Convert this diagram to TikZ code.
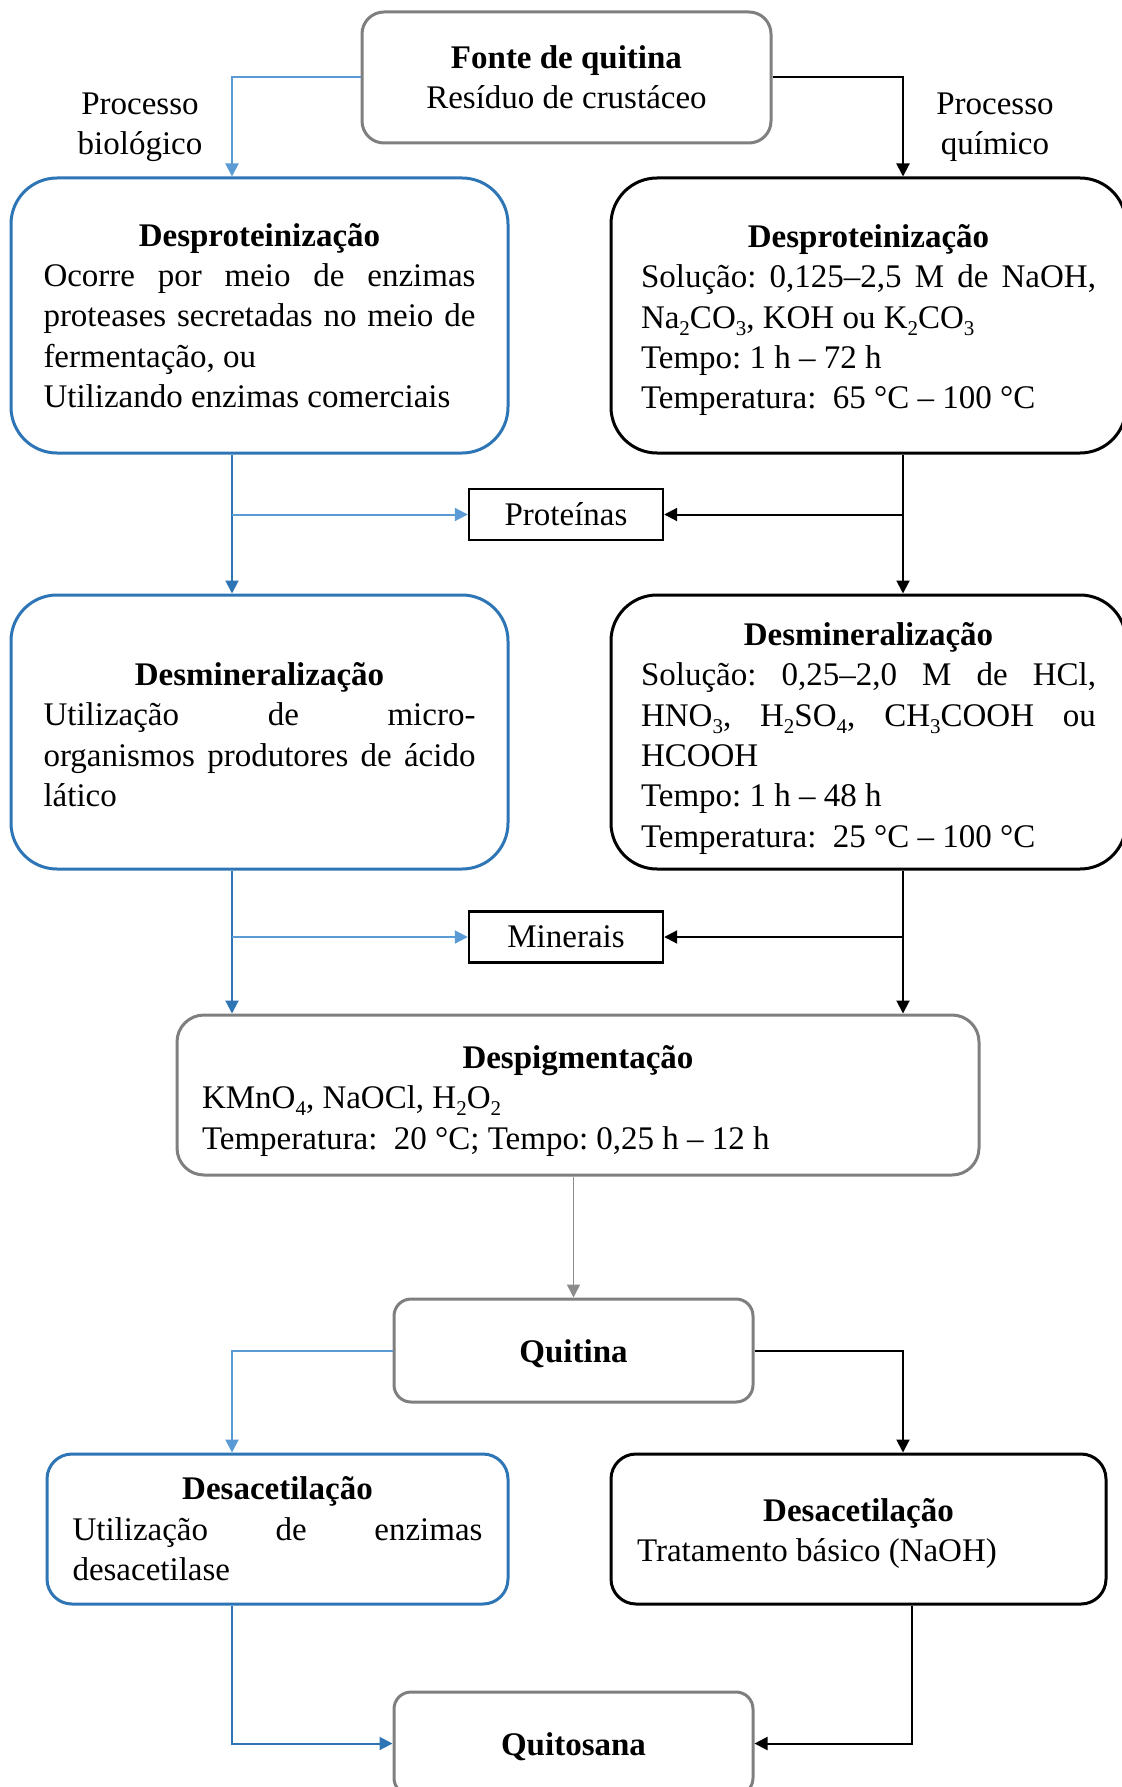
\documentclass[tikz,border=0pt]{standalone}
\usepackage{fontspec}
\setmainfont{Liberation Serif}
\usepackage{tikz}
\usetikzlibrary{arrows.meta,positioning,calc}

\definecolor{azulclaro}{RGB}{91,155,213}
\definecolor{azulescuro}{RGB}{46,117,182}
\definecolor{cinzacaixa}{RGB}{127,127,127}
\definecolor{cinzaseta}{RGB}{140,140,140}

\newcommand{\subi}[1]{\raisebox{-0.22em}{\fontsize{10.5}{10.5}\selectfont #1}}
\frenchspacing

\tikzset{
  every node/.style={font=\fontsize{16.5}{20.2}\selectfont, inner sep=0pt},
  caixa/.style={fill=white, line width=1.5pt, align=justify},
  caixabio/.style={caixa, draw=azulescuro},
  caixaquim/.style={caixa, draw=black},
  caixacinza/.style={caixa, draw=cinzacaixa},
  caixaprod/.style={draw=black, line width=1.2pt, minimum width=97pt, minimum height=25.5pt},
  seta/.style={line width=1pt, -{Triangle[length=6.5pt,width=6.5pt]}},
  setabio/.style={seta, azulclaro},
  setabioesc/.style={seta, azulescuro},
  setaquim/.style={seta, black},
  setacinza/.style={seta, cinzaseta, line width=0.8pt}
}

\begin{document}
\begin{tikzpicture}[x=0.5pt,y=-0.5pt]
\useasboundingbox (0,0) rectangle (1121,1787);

% colunas dos dois processos
\coordinate (colB) at (232,0);
\coordinate (colQ) at (903,0);
\coordinate (colQ2) at (912,0);

% fonte
\node[caixacinza, align=center, minimum width=204.5pt, minimum height=65.5pt, rounded corners=11pt] (fonte) at (566.5,77.5)
  {\textbf{Fonte de quitina}\\Resíduo de crustáceo};
\node[align=center] (procB) at (140,127.5) {Processo\\biológico};
\node[align=center] (procQ) at (995,127.5) {Processo\\químico};

% desproteinizacao
\node[caixabio, text width=216pt, minimum width=248.5pt, minimum height=137.5pt, rounded corners=23pt] (desprotB) at (259.5,315.5)
  {{\centering\bfseries Desproteinização\par}
   Ocorre por meio de enzimas\linebreak
   proteases secretadas no meio de\linebreak
   fermentação, ou\newline
   Utilizando enzimas comerciais};
\node[caixaquim, text width=227.5pt, minimum width=257.5pt, minimum height=137.5pt, rounded corners=23pt] (desprotQ) at (868.5,315.5)
  {{\centering\bfseries Desproteinização\par}
   Solução: 0,125–2,5 M de NaOH,\linebreak
   Na\subi{2}CO\subi{3}, KOH ou K\subi{2}CO\subi{3}\newline
   Tempo: 1 h – 72 h\newline
   Temperatura:\ \ 65 °C – 100 °C\par\kern-4.6pt};
\node[caixaprod] (proteinas) at (566,514.5) {Proteínas};

% desmineralizacao
\node[caixabio, text width=216pt, minimum width=248.5pt, minimum height=137pt, rounded corners=23pt] (desminB) at (259.5,732)
  {{\centering\bfseries Desmineralização\par}
   Utilização de micro-\linebreak
   organismos produtores de ácido\linebreak
   lático\par\kern-2.8pt};
\node[caixaquim, text width=227.5pt, minimum width=257.5pt, minimum height=137pt, rounded corners=23pt] (desminQ) at (868.5,732)
  {{\centering\bfseries Desmineralização\par}
   Solução: 0,25–2,0 M de HCl,\linebreak
   HNO\subi{3}, H\subi{2}SO\subi{4}, CH\subi{3}COOH ou\linebreak
   HCOOH\newline
   Tempo: 1 h – 48 h\newline
   Temperatura:\ \ 25 °C – 100 °C\par\kern-6.3pt};
\node[caixaprod] (minerais) at (566,937) {Minerais};

% despigmentacao
\node[caixacinza, text width=376pt, minimum width=401pt, minimum height=80pt, rounded corners=13.5pt] (despig) at (578,1095)
  {{\centering\bfseries Despigmentação\par}
   KMnO\subi{4}, NaOCl, H\subi{2}O\subi{2}\newline
   Temperatura:\ \ 20 °C; Tempo: 0,25 h – 12 h\par\kern-5.7pt};
\node[caixacinza, align=center, text height=12.2pt, text depth=0pt, minimum width=179.5pt, minimum height=51.5pt, rounded corners=8.5pt] (quitina) at (573.5,1350.5)
  {\textbf{Quitina}};

% desacetilacao
\node[caixabio, text width=205pt, minimum width=230.5pt, minimum height=75pt, rounded corners=12.5pt] (desacB) at (277.5,1529)
  {{\centering\bfseries Desacetilação\par}
   Utilização de enzimas\linebreak
   desacetilase};
\node[caixaquim, text width=221.5pt, minimum width=247.5pt, minimum height=75pt, rounded corners=12.5pt] (desacQ) at (858.5,1529)
  {{\centering\bfseries Desacetilação\par}
   Tratamento básico (NaOH)\par\kern-4.6pt};
\node[caixacinza, align=center, text height=12.2pt, text depth=0pt, minimum width=179.5pt, minimum height=51.5pt, rounded corners=8.5pt] (quitosana) at (573.5,1743.5)
  {\textbf{Quitosana}};

% setas
\draw[setabio] (fonte.west) -| (desprotB.north -| colB);
\draw[setaquim] (fonte.east) -| (desprotQ.north -| colQ);
\draw[setabioesc] (desprotB.south -| colB) -- (desminB.north -| colB);
\draw[setabio] (proteinas.west -| colB) -- (proteinas.west);
\draw[setaquim] (desprotQ.south -| colQ) -- (desminQ.north -| colQ);
\draw[setaquim] (proteinas.east -| colQ) -- (proteinas.east);
\draw[setabioesc] (desminB.south -| colB) -- (despig.north -| colB);
\draw[setabio] (minerais.west -| colB) -- (minerais.west);
\draw[setaquim] (desminQ.south -| colQ) -- (despig.north -| colQ);
\draw[setaquim] (minerais.east -| colQ) -- (minerais.east);
\draw[setacinza] (despig.south -| quitina.north) -- (quitina.north);
\draw[setabio] (quitina.west) -| (desacB.north -| colB);
\draw[setaquim] (quitina.east) -| (desacQ.north -| colQ);
\draw[setabioesc] (desacB.south -| colB) |- (quitosana.west);
\draw[setaquim] (desacQ.south -| colQ2) |- (quitosana.east);
\end{tikzpicture}
\end{document}
